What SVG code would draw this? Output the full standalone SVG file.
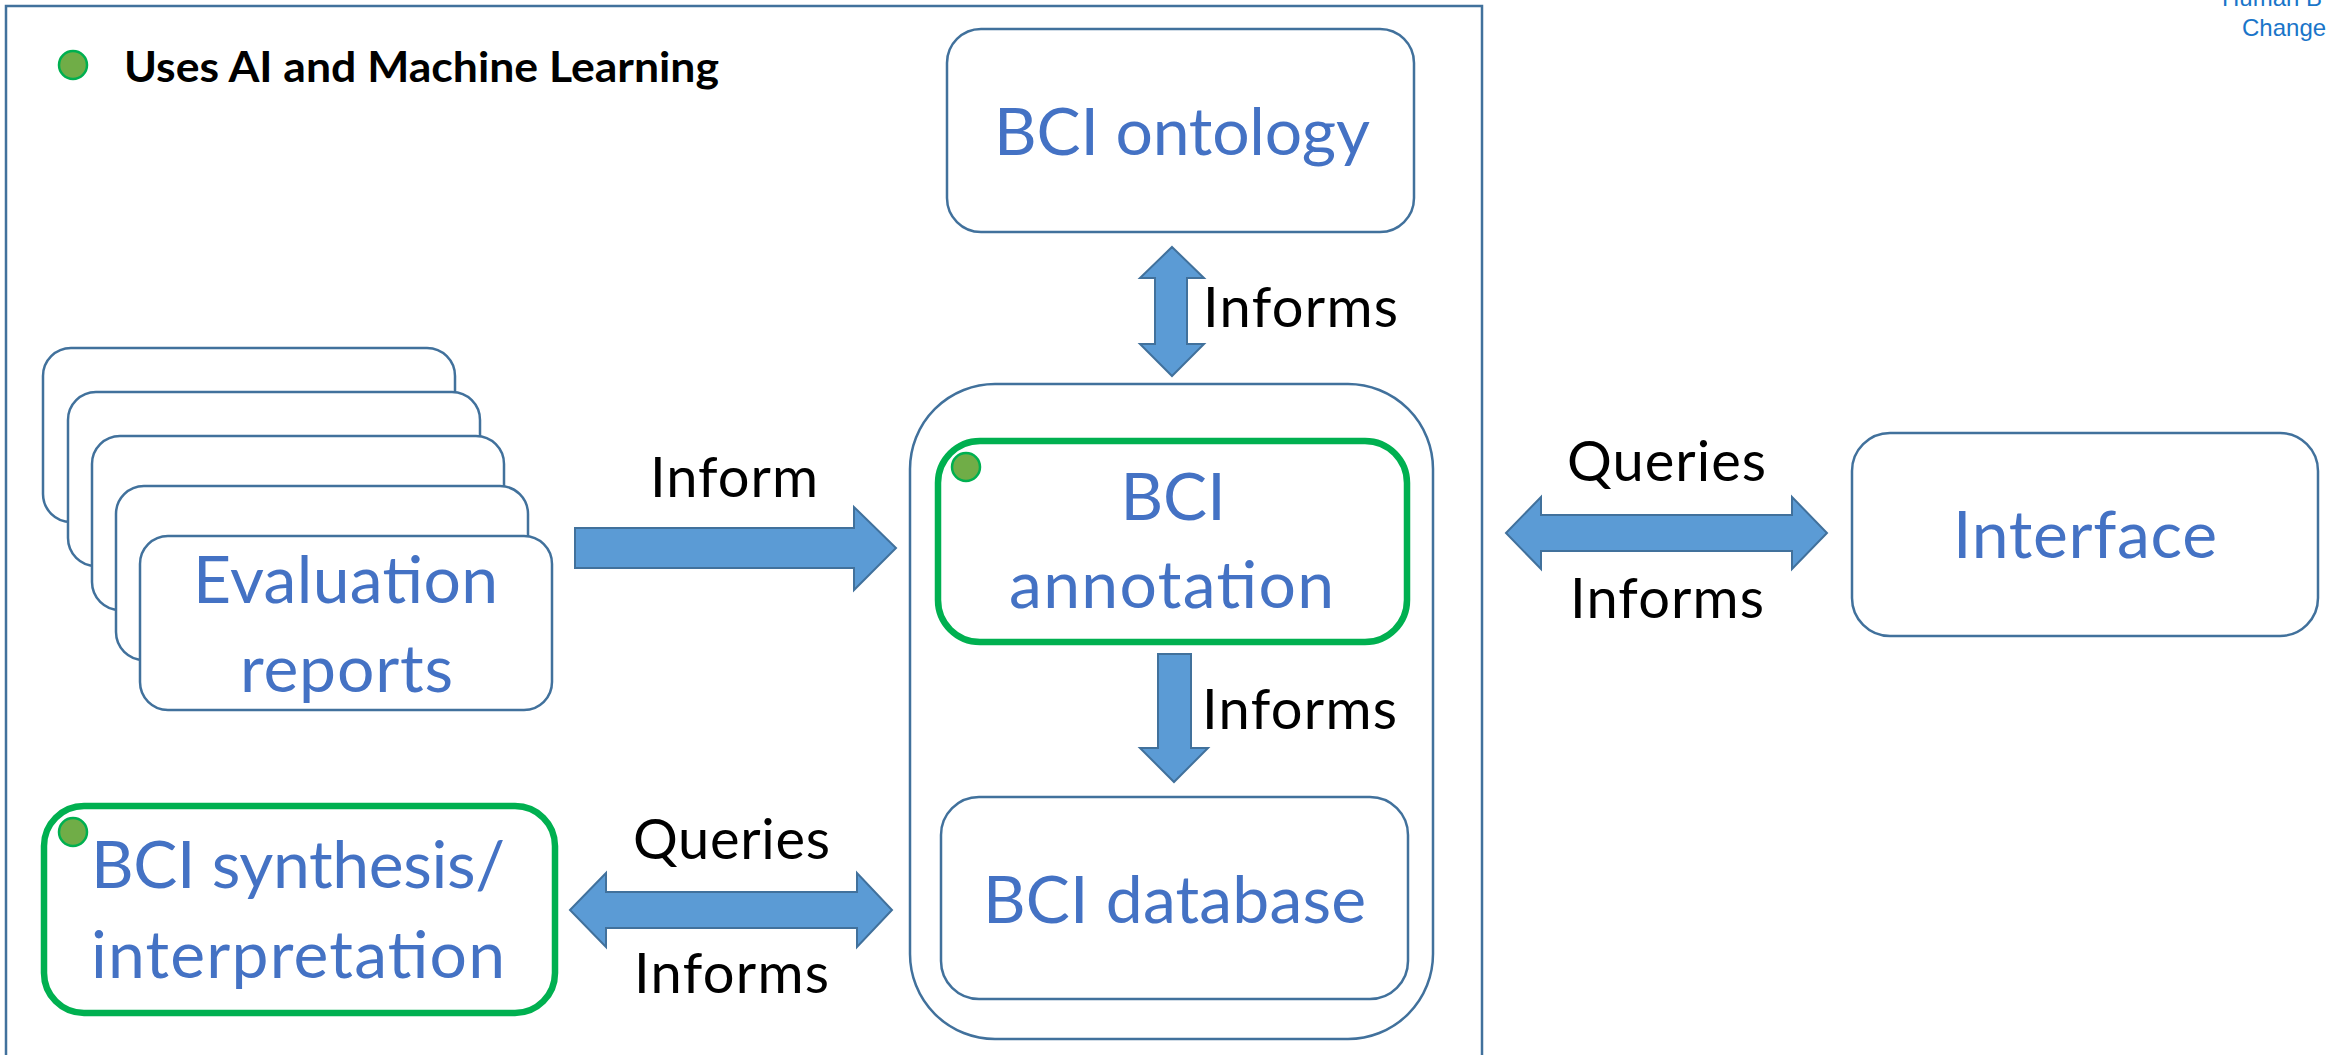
<svg xmlns="http://www.w3.org/2000/svg" width="2333" height="1055" viewBox="0 0 2333 1055">
<style>
.frame{fill:none;stroke:#41719c;stroke-width:2.5}
.node{fill:#fff;stroke:#41719c;stroke-width:2.5}
.ai{fill:#fff;stroke:#00b050;stroke-width:6.5}
.dot{fill:#70ad47;stroke:#00b050;stroke-width:2.5}
.arrow{fill:#5b9bd5;stroke:#41719c;stroke-width:2;stroke-linejoin:miter}
.big{font-family:Lato,"Open Sans",sans-serif;font-size:66px;fill:#4472c4}
.lbl{font-family:Lato,"Open Sans",sans-serif;font-size:56px;fill:#000}
.legend{font-family:Lato,"Open Sans",sans-serif;font-size:42px;font-weight:bold;fill:#000}
.corner{font-family:"Liberation Sans",Arial,sans-serif;font-size:24px;fill:#1a75c9}
</style>
<rect width="2333" height="1055" fill="#fff"/>
<g id="corner-text">
<text class="corner" x="2222" y="6">Human B</text>
<text class="corner" x="2242" y="36">Change</text>
</g>
<g id="frame">
<rect class="frame" x="6" y="6" width="1476" height="1060"/>
</g>
<g id="legend">
<circle class="dot" cx="73" cy="65" r="14"/>
<text class="legend" x="124" y="82" textLength="595" lengthAdjust="spacingAndGlyphs">Uses AI and Machine Learning</text>
</g>
<g id="container">
<rect class="node" x="910" y="384" width="523" height="655" rx="85"/>
</g>
<g id="ontology">
<rect class="node" x="947" y="29" width="467" height="203" rx="34"/>
<text class="big" x="994" y="155" textLength="376">BCI ontology</text>
</g>
<g id="evaluation-reports">
<rect class="node" x="43" y="348" width="412" height="174" rx="28"/>
<rect class="node" x="68" y="392" width="412" height="174" rx="28"/>
<rect class="node" x="92" y="436" width="412" height="174" rx="28"/>
<rect class="node" x="116" y="486" width="412" height="174" rx="28"/>
<rect class="node" x="140" y="536" width="412" height="174" rx="28"/>
<text class="big" x="193" y="603" textLength="305">Evaluation</text>
<text class="big" x="240" y="692" textLength="213">reports</text>
</g>
<g id="annotation">
<rect class="ai" x="938" y="441" width="469" height="201" rx="42"/>
<circle class="dot" cx="966" cy="467" r="14"/>
<text class="big" x="1173" y="520" text-anchor="middle">BCI</text>
<text class="big" x="1009" y="608" textLength="325">annotation</text>
</g>
<g id="database">
<rect class="node" x="941" y="797" width="467" height="202" rx="38"/>
<text class="big" x="983" y="923" textLength="383">BCI database</text>
</g>
<g id="interface">
<rect class="node" x="1852" y="433" width="466" height="203" rx="38"/>
<text class="big" x="1953" y="558" textLength="264">Interface</text>
</g>
<g id="synthesis">
<rect class="ai" x="44" y="806" width="511" height="207" rx="40"/>
<circle class="dot" cx="73" cy="832" r="14"/>
<text class="big" x="91" y="888" textLength="414">BCI synthesis/</text>
<text class="big" x="91" y="978" textLength="414">interpretation</text>
</g>
<g id="connectors">
<polygon class="arrow" points="575,528 854,528 854,507 896,548 854,590 854,568 575,568"/>
<text class="lbl" x="650" y="497" textLength="168">Inform</text>
<polygon class="arrow" points="1172,247 1204,278 1187,278 1187,344 1204,344 1172,376 1140,344 1155,344 1155,278 1140,278"/>
<text class="lbl" x="1203" y="327" textLength="195">Informs</text>
<polygon class="arrow" points="1158,654 1191,654 1191,748 1208,748 1174,782 1140,748 1158,748"/>
<text class="lbl" x="1202" y="729" textLength="195">Informs</text>
<polygon class="arrow" points="1506,533 1541,497 1541,515 1792,515 1792,497 1827,533 1792,569 1792,551 1541,551 1541,569"/>
<text class="lbl" x="1567" y="481" textLength="199">Queries</text>
<text class="lbl" x="1570" y="618" textLength="194">Informs</text>
<polygon class="arrow" points="570,910 606,873 606,892 857,892 857,873 892,910 857,947 857,928 606,928 606,947"/>
<text class="lbl" x="633" y="859" textLength="197">Queries</text>
<text class="lbl" x="634" y="993" textLength="195">Informs</text>
</g>
</svg>
